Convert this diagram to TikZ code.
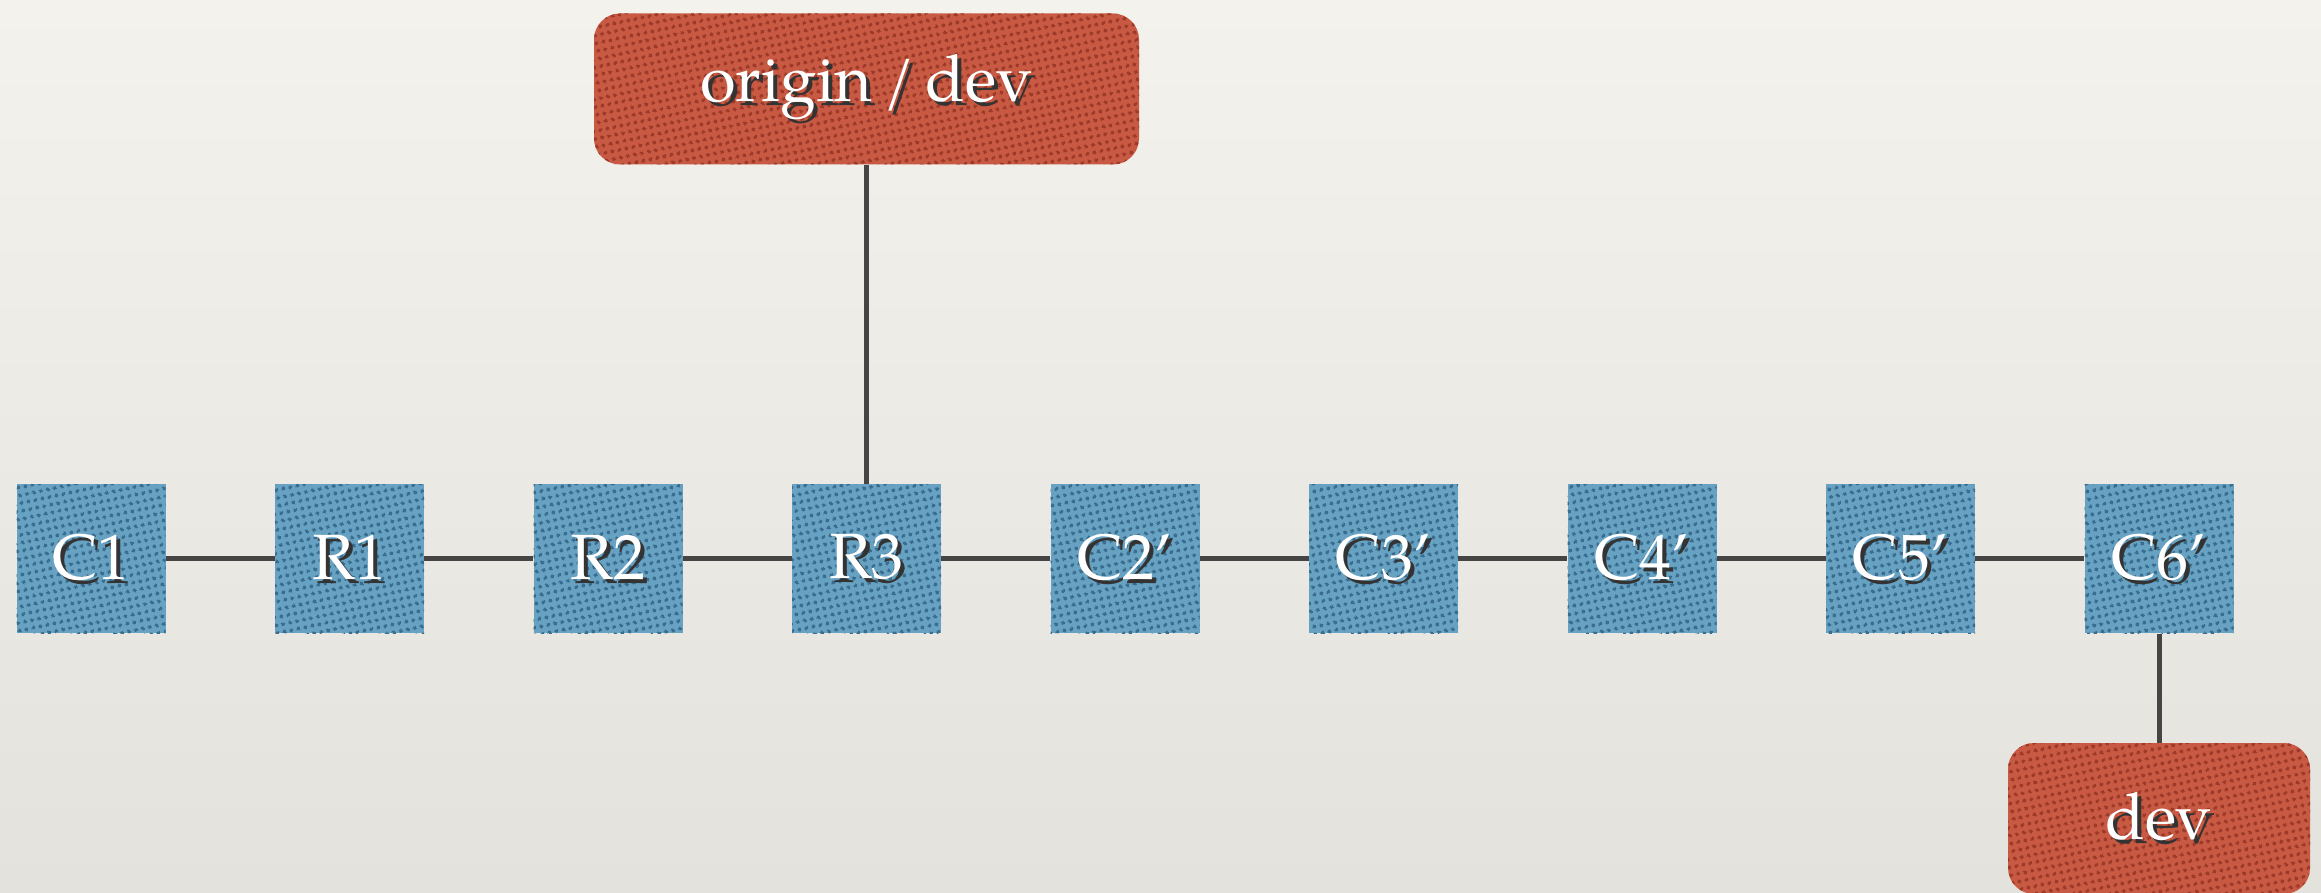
\documentclass[tikz,border=0pt]{standalone}
\usepackage{fontspec}
\setmainfont{TeX Gyre Pagella}
\usetikzlibrary{patterns.meta}
\definecolor{bgtop}{HTML}{F3F2ED}
\definecolor{bgbot}{HTML}{E3E2DD}
\definecolor{blueA}{HTML}{68A2C2}
\definecolor{blueD}{HTML}{3A6E90}
\definecolor{redA}{HTML}{C85A43}
\definecolor{redD}{HTML}{9E3A2A}
\definecolor{linec}{HTML}{454545}
\definecolor{shadowc}{HTML}{333333}
\tikzdeclarepattern{
  name=bigdots,
  type=uncolored,
  bounding box={(0,0) and (7pt,7pt)},
  tile size={(7pt,7pt)},
  tile transformation={rotate=12},
  code={\fill (3.5pt,3.5pt) circle (2pt);}
}
\newcommand\sht[1]{\rlap{\kern4pt\raisebox{-4pt}{\color{shadowc}#1}}#1}
\tikzset{
  commit/.style={minimum width=149pt, minimum height=149pt, inner sep=0pt,
    fill=blueA, postaction={pattern=bigdots, pattern color=blueD},
    text=white, font=\fontsize{64}{64}\selectfont},
  branch/.style={minimum height=151pt, inner sep=0pt, rounded corners=26pt,
    fill=redA, postaction={pattern=bigdots, pattern color=redD},
    text=white, font=\fontsize{65}{65}\selectfont},
  link/.style={draw=linec, line width=5pt}
}
\begin{document}
\begin{tikzpicture}[x=1pt,y=1pt]
\shade[top color=bgtop, bottom color=bgbot] (0,0) rectangle (2321,892);
\useasboundingbox (0,0) rectangle (2321,892);
\node[commit] (c1) at (91,333) {\sht{C1}};
\node[commit] (r1) at (349.5,333) {\sht{R1}};
\node[commit] (r2) at (608,333) {\sht{R2}};
\node[commit] (r3) at (866.5,333) {\sht{R3}};
\node[commit] (c2) at (1125,333) {\sht{C2'}};
\node[commit] (c3) at (1383.5,333) {\sht{C3'}};
\node[commit] (c4) at (1642,333) {\sht{C4'}};
\node[commit] (c5) at (1900.5,333) {\sht{C5'}};
\node[commit] (c6) at (2159,333) {\sht{C6'}};
\node[branch, minimum width=545pt] (origin) at (866.5,803) {\sht{origin\,/\,dev}};
\node[branch, minimum width=302pt] (dev) at (2159,73.5) {\sht{dev}};
\draw[link] (c1) -- (r1);
\draw[link] (r1) -- (r2);
\draw[link] (r2) -- (r3);
\draw[link] (r3) -- (c2);
\draw[link] (c2) -- (c3);
\draw[link] (c3) -- (c4);
\draw[link] (c4) -- (c5);
\draw[link] (c5) -- (c6);
\draw[link] (origin) -- (r3);
\draw[link] (c6) -- (dev);
\end{tikzpicture}
\end{document}
